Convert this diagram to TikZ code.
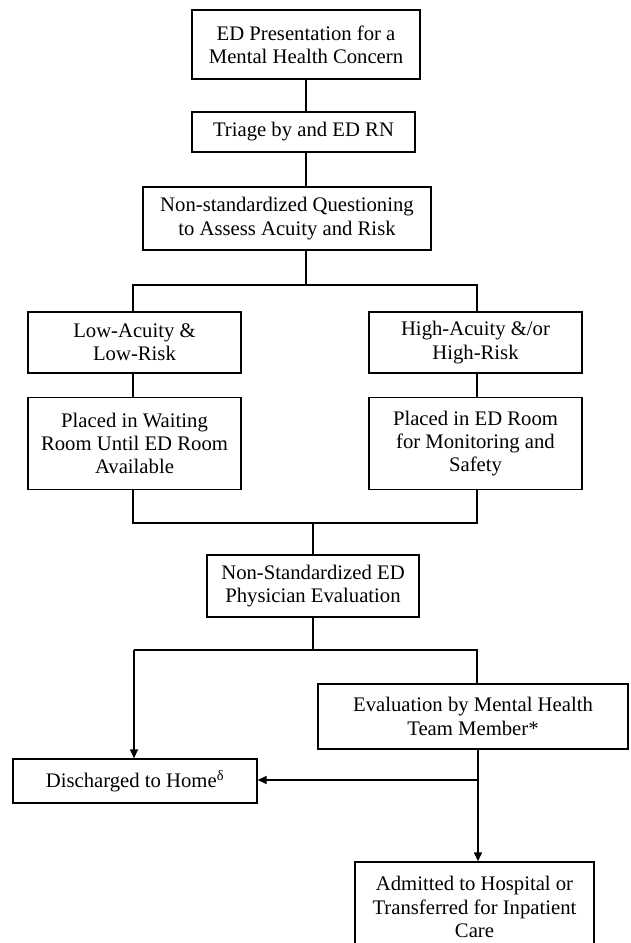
\documentclass[tikz,border=0pt]{standalone}
\usepackage{fontspec}
\setmainfont{Liberation Serif}
\usetikzlibrary{arrows.meta}
\begin{document}
\begin{tikzpicture}[x=1pt,y=-1pt,
  box/.style={draw, line width=1.3pt, rectangle, inner sep=0pt, align=center,
    font=\fontsize{20.7}{23.3}\selectfont},
  conn/.style={line width=1.3pt},
  arr/.style={conn, -{Triangle[length=9pt,width=8pt]}}]
\useasboundingbox (0,0) rectangle (630,943);
\clip (0,0) rectangle (630,943);
% boxes
\node[box, minimum width=228pt, minimum height=69pt] (b1) at (306,44.5)
  {ED Presentation for a\\Mental Health Concern};
\node[box, minimum width=223pt, minimum height=40pt] (b2) at (303.5,132)
  {Triage by and ED RN};
\node[box, minimum width=288pt, minimum height=63pt] (b3) at (287,218.5)
  {Non-standardized Questioning\\to Assess Acuity and Risk};
\node[box, minimum width=213pt, minimum height=61pt] (b4) at (134.5,342.5)
  {Low-Acuity \&\\Low-Risk};
\node[box, minimum width=213pt, minimum height=61pt] (b5) at (475.5,342.5)
  {High-Acuity \&/or\\High-Risk};
\node[box, minimum width=213pt, minimum height=92pt] (b6) at (134.5,443.5)
  {Placed in Waiting\\Room Until ED Room\\Available};
\node[box, minimum width=213pt, minimum height=92pt] (b7) at (475.5,443.5)
  {Placed in ED Room\\for Monitoring and\\Safety};
\node[box, minimum width=212pt, minimum height=62pt] (b8) at (313,586)
  {Non-Standardized ED\\Physician Evaluation};
\node[box, minimum width=310pt, minimum height=65pt] (b9) at (473,716.5)
  {Evaluation by Mental Health\\Team Member*};
\node[box, minimum width=244pt, minimum height=44pt] (b10) at (135,781)
  {Discharged to Home\textsuperscript{δ}};
\node[box, minimum width=239pt, minimum height=90pt] (b11) at (474.5,907)
  {Admitted to Hospital or\\Transferred for Inpatient\\Care};
% junction coordinates
\coordinate (j1) at (306,285);
\coordinate (j1l) at (133,285);
\coordinate (j1r) at (477,285);
\coordinate (j2) at (313,523);
\coordinate (j2l) at (133,523);
\coordinate (j2r) at (477,523);
\coordinate (j3) at (313,650);
\coordinate (j3l) at (134,650);
\coordinate (j3r) at (477,650);
\coordinate (e9) at (478,749);
\coordinate (j4) at (478,780);
% connectors
\draw[conn] (b1.south) -- (b1.south |- b2.north);
\draw[conn] (b1.south |- b2.south) -- (b1.south |- b3.north);
\draw[conn] (b1.south |- b3.south) -- (j1);
\draw[conn] (j1l |- b4.north) -- (j1l) -- (j1r) -- (j1r |- b5.north);
\draw[conn] (j1l |- b4.south) -- (j1l |- b6.north);
\draw[conn] (j1r |- b5.south) -- (j1r |- b7.north);
\draw[conn] (j2l |- b6.south) -- (j2l) -- (j2r) -- (j2r |- b7.south);
\draw[conn] (j2) -- (b8.north);
\draw[conn] (b8.south) -- (j3);
\draw[conn] (j3l) -- (j3r) -- (j3r |- b9.north);
\draw[arr] (j3l) -- (j3l |- b10.north);
\draw[arr] (e9) -- (e9 |- b11.north);
\draw[arr] (j4) -- (b10.east |- j4);
\end{tikzpicture}
\end{document}
